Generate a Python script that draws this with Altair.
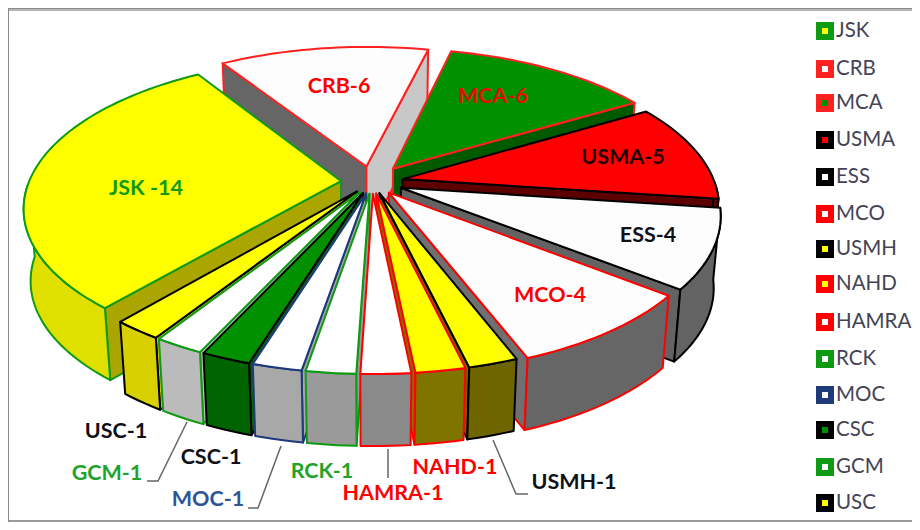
import math
import altair as alt

names = ["JSK","CRB","MCA","USMA","ESS","MCO","USMH","NAHD","HAMRA","RCK","MOC","CSC","GCM","USC"]
counts = [14,6,6,5,4,4,1,1,1,1,1,1,1,1]
label_text = ["JSK -14","CRB-6","MCA-6","USMA-5","ESS-4","MCO-4","USMH-1","NAHD-1","HAMRA-1","RCK-1","MOC-1","CSC-1","GCM-1","USC-1"]

# styles: top fill, outline, rim wall, start-edge wall, end-edge wall, label colour
GREEN="#0F9A14"; RED="#FF0000"; BLK="#000000"; NAVY="#1F3A7A"
style = {
 "JSK":  ("#FFFF00",GREEN,"#E0E000","#ABA500","#ABA500",GREEN),
 "CRB":  ("#FDFDFD","#FF2020","#666666","#666666","#C8C8C8",RED),
 "MCA":  ("#009000","#FF2020","#005A00","#005A00","#005A00","#E01000"),
 "USMA": ("#FF0000",BLK,"#5C0000","#5C0000","#5C0000","#200000"),
 "ESS":  ("#FDFDFD",BLK,"#636363","#636363","#636363","#101018"),
 "MCO":  ("#FDFDFD",RED,"#666666","#707070","#707070",RED),
 "USMH": ("#FFFF00",BLK,"#6E6400","#6E6400","#6E6400","#101018"),
 "NAHD": ("#FFFF00",RED,"#807400","#807400","#807400",RED),
 "HAMRA":("#FFFFFF",RED,"#8A8A8A","#8A8A8A","#8A8A8A",RED),
 "RCK":  ("#FFFFFF",GREEN,"#9A9A9A","#9A9A9A","#9A9A9A","#1FA32A"),
 "MOC":  ("#FFFFFF",NAVY,"#A8A8A8","#A8A8A8","#A8A8A8","#2F5597"),
 "CSC":  ("#009000",BLK,"#006400","#006400","#006400","#101018"),
 "GCM":  ("#FFFFFF",GREEN,"#BBBBBB","#BBBBBB","#BBBBBB","#1FA32A"),
 "USC":  ("#FFFF00",BLK,"#D8D000","#D8D000","#D8D000","#101018"),
}
explode = dict(JSK=.10,CRB=.11,MCA=.115,USMA=.10,ESS=.10,MCO=.09,USMH=.08,NAHD=.08,HAMRA=.08,
               RCK=.08,MOC=.08,CSC=.08,GCM=.08,USC=.08)

# pie geometry (page pixels)
CX,CY,RX,RY,K,DEPTH,START = 372,182,312,145,.171,72,220.2
OFF = 8

def proj(u,v):
    d = 1-K*v
    return CX+RX*u/d, CY+RY*v/d
def down(p):
    return CX+(p[0]-CX)*.98, p[1]+DEPTH
def world(a,r=1.0):
    t=math.radians(a)
    return r*math.sin(t), -r*math.cos(t)
def feat(pts,fill,stroke,sw=2):
    c=[[round(x-OFF,2),round(y-OFF,2)] for x,y in pts]
    c.append(c[0])
    return {"type":"Feature","geometry":{"type":"Polygon","coordinates":[c]},
            "properties":{"fill":fill,"stroke":stroke,"sw":sw}}

total=sum(counts)
slices=[]
a=START
for n,c in zip(names,counts):
    b=a+360*c/total
    slices.append((n,a,b))
    a=b
def depth_key(s):
    return -math.cos(math.radians((s[1]+s[2])/2))
features=[]
for n,a,b in sorted(slices,key=depth_key):
    top,line,rim,wall1,wall2,_=style[n]
    mid=(a+b)/2
    ex,ey=world(mid,explode[n])
    pt=lambda ang:(lambda w:proj(w[0]+ex,w[1]+ey))(world(ang))
    apex=proj(ex,ey)
    P1,P2=pt(a),pt(b)
    if -math.sin(math.radians(a))>0:
        features.append(feat([apex,P1,down(P1),down(apex)],wall1,line))
    if math.sin(math.radians(b))>0:
        features.append(feat([apex,P2,down(P2),down(apex)],wall2,line))
    steps=max(4,int((b-a)/1.5))
    angs=[a+(b-a)*i/steps for i in range(steps+1)]
    front=[x for x in angs if 90<=(x%360)<=270]
    if len(front)>=2:
        up=[pt(x) for x in front]
        features.append(feat(up+[down(p) for p in reversed(up)],rim,line))
    features.append(feat([apex]+[pt(x) for x in angs],top,line))

W,H=904,514
sx=alt.Scale(domain=[0,W],range=[0,W]); sy=alt.Scale(domain=[0,H],range=[0,H])
X=lambda f:alt.X(f,type="quantitative",scale=sx,axis=None)
Y=lambda f:alt.Y(f,type="quantitative",scale=sy,axis=None)

pie=alt.Chart(alt.Data(values=features)).mark_geoshape(strokeJoin="round").encode(
    fill=alt.Fill("properties.fill:N",scale=None),
    stroke=alt.Stroke("properties.stroke:N",scale=None),
    strokeWidth=alt.StrokeWidth("properties.sw:Q",scale=None),
).project(type="identity",scale=1,translate=[0,0])

# frame
fr=[{"x":0,"x2":W,"y":0,"y2":0,"c":"#8A8A8A"},{"x":0,"x2":W,"y":2,"y2":2,"c":"#B5B5B5"},
    {"x":0,"x2":W,"y":513,"y2":513,"c":"#9A9A9A"},
    {"x":0,"x2":0,"y":0,"y2":514,"c":"#8A8A8A"}]
frame=alt.Chart(alt.Data(values=fr)).mark_rule(strokeWidth=2).encode(
    x=X("x"),x2="x2:Q",y=Y("y"),y2="y2:Q",color=alt.Color("c:N",scale=None))

# leader lines
leaders=[("GCM",[(187,422),(158,481),(147,481)]),("MOC",[(281,446),(258,508),(248,508)]),
         ("HAMRA",[(388,449),(388,478)]),("USMH",[(493,440),(516,494),(528,494)])]
lrows=[{"n":n,"i":i,"x":x-OFF,"y":y-OFF} for n,pts in leaders for i,(x,y) in enumerate(pts)]
lead=alt.Chart(alt.Data(values=lrows)).mark_line(color="#666666",strokeWidth=1.5).encode(
    x=X("x"),y=Y("y"),detail="n:N",order="i:Q")

# slice labels
lab_pos=dict(JSK=(146,189),CRB=(339,87),MCA=(493,97),USMA=(623,158),ESS=(648,236),MCO=(550,296),
  USMH=(574,483),NAHD=(455,468),HAMRA=(393,494),RCK=(322,472),MOC=(208,500),CSC=(211,458),GCM=(107,474),USC=(116,432))
trows=[{"t":t,"x":lab_pos[n][0]-OFF,"y":lab_pos[n][1]-OFF,"c":style[n][5]} for n,t in zip(names,label_text)]
labels=alt.Chart(alt.Data(values=trows)).mark_text(font="Lato",fontWeight="bold",fontSize=21.5).encode(
    x=X("x"),y=Y("y"),text="t:N",color=alt.Color("c:N",scale=None))

# legend
leg_y=[31,69,103,140,177,214,249,284,322,359,395,430,467,503]
lrow=[{"n":n,"x":825-OFF,"tx":836-OFF,"y":y-OFF,"f":style[n][0],"s":style[n][1]} for n,y in zip(names,leg_y)]
swatch=alt.Chart(alt.Data(values=lrow)).mark_point(shape="square",filled=True,size=144,strokeWidth=6,opacity=1).encode(
    x=X("x"),y=Y("y"),fill=alt.Fill("f:N",scale=None),stroke=alt.Stroke("s:N",scale=None))
legtxt=alt.Chart(alt.Data(values=lrow)).mark_text(font="Lato",fontSize=20.5,align="left",color="#444455").encode(
    x=X("tx"),y=Y("y"),text="n:N")

chart=alt.layer(frame,pie,lead,labels,swatch,legtxt).properties(
    width=W,height=H,padding=0,autosize=alt.AutoSizeParams(type="none"),background="white"
).configure_view(stroke=None)
chart.save("out.html",embed_options={"renderer":"svg","actions":False})
